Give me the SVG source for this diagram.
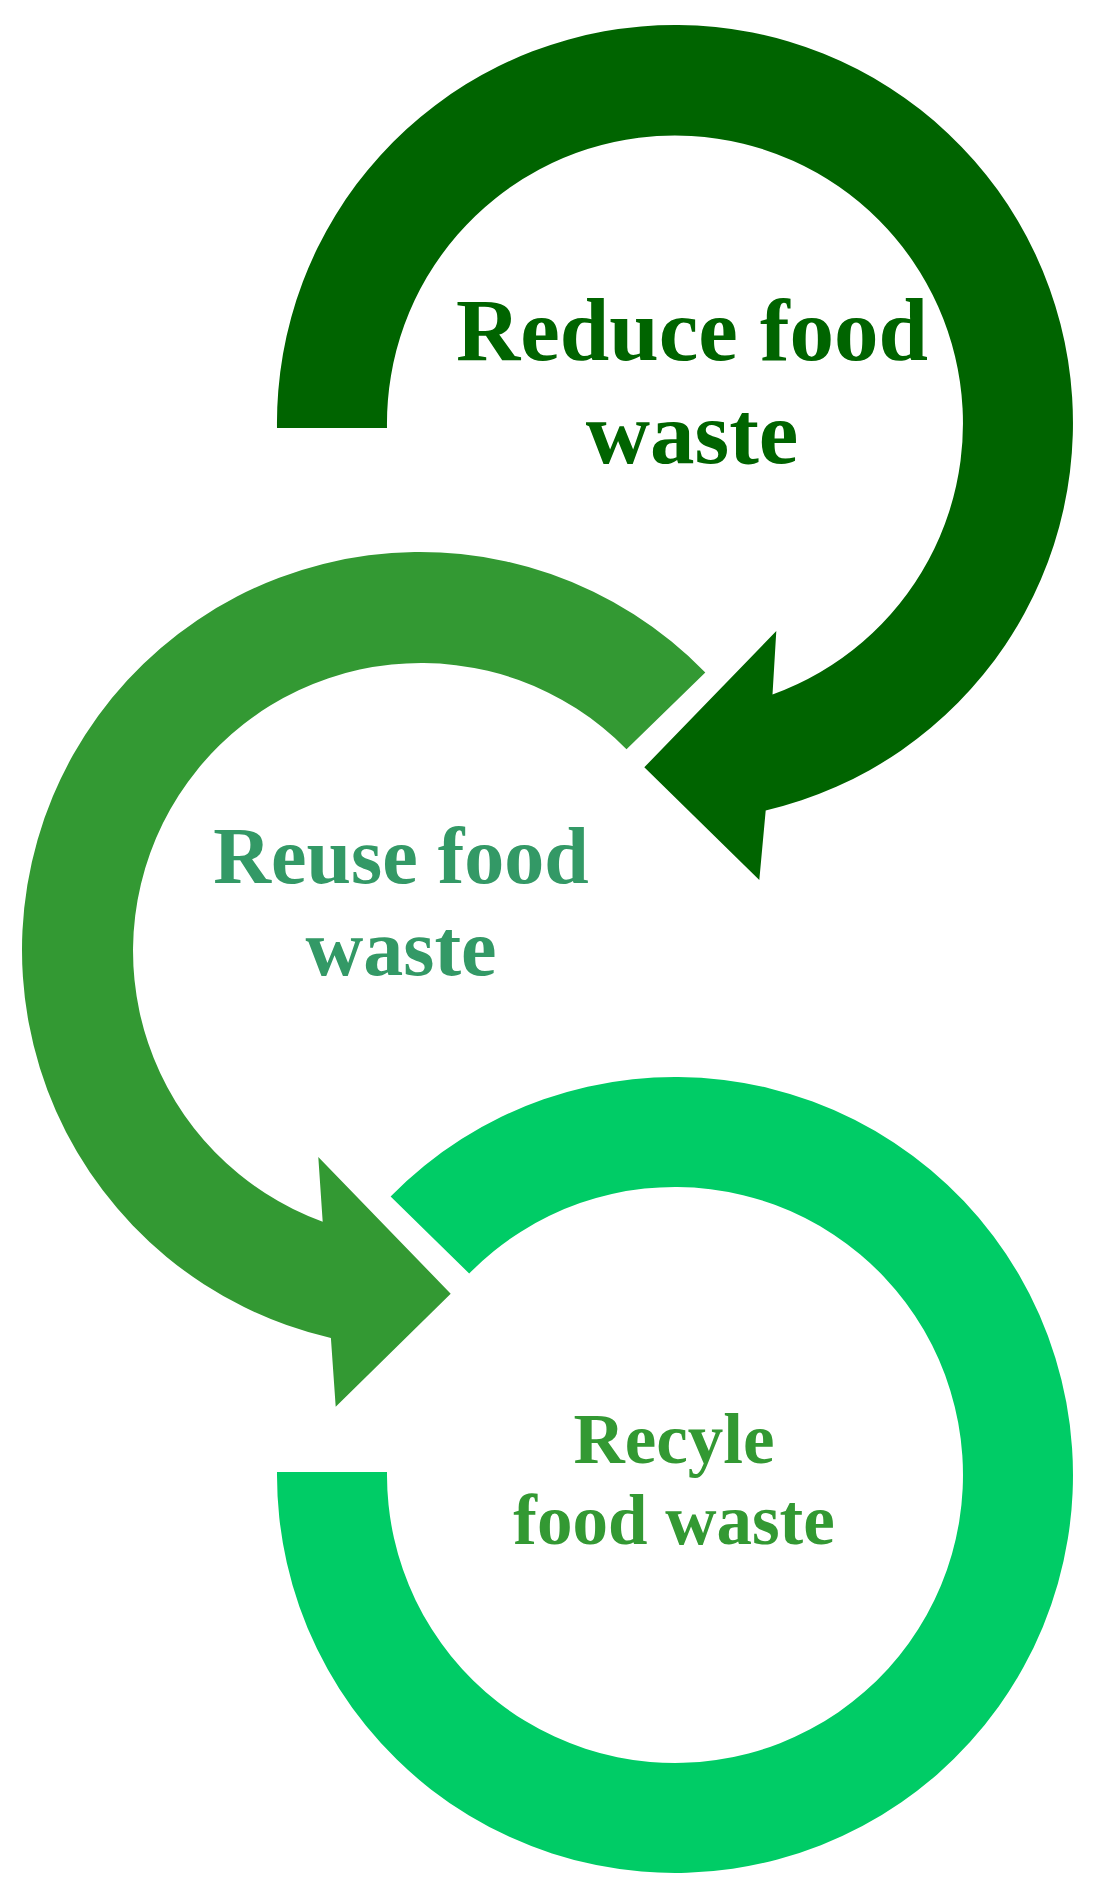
<svg xmlns="http://www.w3.org/2000/svg" width="1097" height="1897" viewBox="0 0 1097 1897">
<style>
text{font-family:"Liberation Serif","Times New Roman",serif;font-weight:bold;text-anchor:middle}
.c1{fill:#006400}.c2{fill:#339933}.c3{fill:#00CC66}.t2{fill:#339966}
</style>
<rect width="1097" height="1897" fill="#ffffff"/>
<g id="connectors">
<path id="arrow-reduce" class="c1" d="M277,428 A398,398 0 1 1 765.7,810.5 L759.3,880 L644.3,767.3 L776.3,631 L772.5,694.5 A288,288 0 1 0 387,428 Z"/>
<path id="arrow-reuse" class="c2" d="M705.3,672.5 A398,398 0 1 0 330.9,1337.9 L335.7,1406.7 L450.7,1293.7 L318.3,1157 L322.7,1221.7 A288,288 0 1 1 626.5,749.2 Z"/>
<path id="arc-recycle" class="c3" d="M390.6,1196.5 A398,398 0 1 1 277,1472 L387,1472 A288,288 0 1 0 469.2,1273.5 Z"/>
</g>
<g id="node-reduce">
<text class="c1" font-size="89" x="692" y="360">Reduce food</text>
<text class="c1" font-size="89" x="692" y="462.7">waste</text>
</g>
<g id="node-reuse">
<text class="t2" font-size="80" x="401" y="882.7">Reuse food</text>
<text class="t2" font-size="80" x="401" y="975">waste</text>
</g>
<g id="node-recycle">
<text class="c2" font-size="71" x="674" y="1463.3">Recyle</text>
<text class="c2" font-size="71" x="674" y="1544">food waste</text>
</g>
</svg>
